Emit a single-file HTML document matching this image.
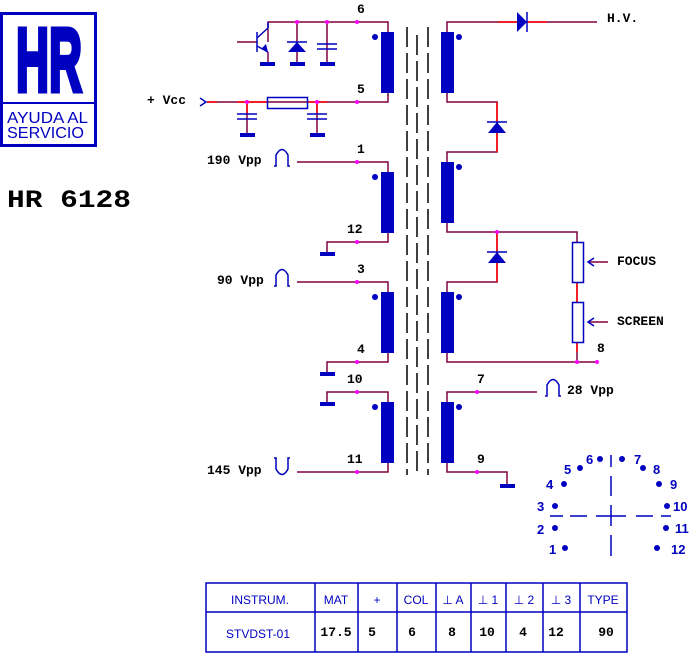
<!DOCTYPE html>
<html><head><meta charset="utf-8"><style>
html,body{margin:0;padding:0;background:#fff;width:694px;height:653px;overflow:hidden}
svg{display:block}
.t{font-family:"Liberation Mono",monospace;font-weight:bold;font-size:13px;fill:#000}
.b{font-family:"Liberation Sans",sans-serif;font-weight:bold;font-size:13px;fill:#0000c0}
.s{font-family:"Liberation Sans",sans-serif;font-size:12px;fill:#0000c0}
</style></head><body>
<svg width="694" height="653" viewBox="0 0 694 653" xmlns="http://www.w3.org/2000/svg">
<!-- logo -->
<rect x="1.5" y="13.5" width="94" height="132" fill="none" stroke="#0000c0" stroke-width="3"/>
<line x1="1" y1="103" x2="96" y2="103" stroke="#0000c0" stroke-width="2"/>
<text x="16" y="91" font-family="Liberation Sans,sans-serif" font-weight="bold" font-size="90" fill="#0000c0" stroke="#0000c0" stroke-width="5" textLength="66" lengthAdjust="spacingAndGlyphs">HR</text>
<text x="7" y="123" font-family="Liberation Sans,sans-serif" font-size="16" fill="#0000c0" textLength="81" lengthAdjust="spacingAndGlyphs">AYUDA AL</text>
<text x="7" y="138" font-family="Liberation Sans,sans-serif" font-size="16" fill="#0000c0" textLength="77" lengthAdjust="spacingAndGlyphs">SERVICIO</text>
<text x="7" y="207" font-family="Liberation Mono,monospace" font-weight="bold" font-size="25" fill="#000" textLength="124" lengthAdjust="spacingAndGlyphs">HR 6128</text>

<g stroke="#800040" stroke-width="1.5" fill="none">
<polyline points="268,42 268,22 388,22 388,32"/>
<polyline points="297,22 297,62"/>
<polyline points="327,22 327,62"/>
<polyline points="207,102 388,102 388,92"/>
<polyline points="247,102 247,134"/>
<polyline points="317,102 317,134"/>
<polyline points="297,162 388,162 388,172"/>
<polyline points="327,252 327,242 388,242 388,232"/>
<polyline points="297,282 388,282 388,292"/>
<polyline points="327,372 327,362 388,362 388,352"/>
<polyline points="327,403 327,392 388,392 388,402"/>
<polyline points="297,472 388,472 388,462"/>
<line x1="237" y1="42" x2="257" y2="42"/>
<polyline points="268,52 268,62"/>
<polyline points="447,32 447,22 597,22"/>
<polyline points="447,92 447,102 497,102 497,152 447,152 447,162"/>
<polyline points="447,222 447,232 577,232 577,242"/>
<polyline points="497,232 497,282 447,282 447,292"/>
<polyline points="447,352 447,362 597,362"/>
<line x1="577" y1="282" x2="577" y2="302"/>
<line x1="577" y1="342" x2="577" y2="362"/>
<polyline points="447,402 447,392 537,392"/>
<polyline points="447,462 447,472 507,472 507,484"/>
<line x1="588" y1="262" x2="608" y2="262"/>
<line x1="588" y1="322" x2="608" y2="322"/>
</g>
<g stroke="#ff0000" stroke-width="1.5">
<line x1="207" y1="102" x2="217" y2="102"/>
<line x1="247" y1="102" x2="247" y2="114"/><line x1="317" y1="102" x2="317" y2="114"/>
<line x1="237" y1="102" x2="267" y2="102"/><line x1="307" y1="102" x2="327" y2="102"/>
<line x1="497" y1="102" x2="497" y2="122"/><line x1="497" y1="133" x2="497" y2="152"/>
<line x1="497" y1="232" x2="497" y2="252"/><line x1="497" y1="263" x2="497" y2="282"/>
<line x1="498" y1="22" x2="517" y2="22"/><line x1="527" y1="22" x2="547" y2="22"/>
<line x1="577" y1="282" x2="577" y2="302"/><line x1="577" y1="342" x2="577" y2="352"/>
</g>
<g stroke="#000" stroke-width="1.5" stroke-dasharray="20,6">
<line x1="407" y1="27" x2="407" y2="475"/>
<line x1="417" y1="35" x2="417" y2="475"/>
<line x1="428" y1="27" x2="428" y2="475"/>
</g>
<g fill="#0000c0">
<rect x="381" y="32" width="13" height="61"/><rect x="381" y="172" width="13" height="61"/>
<rect x="381" y="292" width="13" height="61"/><rect x="381" y="402" width="13" height="61"/>
<rect x="441" y="32" width="13" height="61"/><rect x="441" y="162" width="13" height="61"/>
<rect x="441" y="292" width="13" height="61"/><rect x="441" y="402" width="13" height="61"/>
<circle cx="375" cy="37" r="3"/><circle cx="375" cy="177" r="3"/><circle cx="375" cy="297" r="3"/><circle cx="375" cy="407" r="3"/>
<circle cx="459" cy="37" r="3"/><circle cx="459" cy="167" r="3"/><circle cx="459" cy="297" r="3"/><circle cx="459" cy="407" r="3"/>
<rect x="260" y="62" width="15" height="4"/><rect x="290" y="62" width="15" height="4"/><rect x="320" y="62" width="15" height="4"/>
<rect x="240" y="133" width="15" height="4"/><rect x="310" y="133" width="15" height="4"/>
<rect x="320" y="252" width="15" height="4"/><rect x="320" y="372" width="15" height="4"/><rect x="320" y="402" width="15" height="4"/>
<rect x="500" y="484" width="15" height="4"/>
<polygon points="297,42 288,52 306,52"/>
<polygon points="497,122 488,133 506,133"/>
<polygon points="497,252 488,263 506,263"/>
<polygon points="517,12 517,32 527,22"/>
<polygon points="268,52 262,48 266,44"/>
</g>
<g stroke="#0000c0" stroke-width="1.5" fill="none">
<line x1="287" y1="42" x2="307" y2="42"/>
<line x1="487" y1="122" x2="507" y2="122"/>
<line x1="487" y1="252" x2="507" y2="252"/>
<line x1="527" y1="12" x2="527" y2="32"/>
<line x1="257" y1="32" x2="257" y2="52"/>
<line x1="257" y1="38" x2="268" y2="28"/><line x1="257" y1="46" x2="268" y2="52"/>
<line x1="268" y1="22" x2="268" y2="28"/>
<line x1="317" y1="44" x2="337" y2="44"/><line x1="317" y1="49" x2="337" y2="49"/>
<line x1="237" y1="114" x2="257" y2="114"/><line x1="237" y1="119" x2="257" y2="119"/>
<line x1="307" y1="114" x2="327" y2="114"/><line x1="307" y1="119" x2="327" y2="119"/>
<rect x="267.5" y="97.5" width="40" height="11"/>
<rect x="572.5" y="242.5" width="11" height="40"/>
<rect x="572.5" y="302.5" width="11" height="40"/>
<polyline points="200,98 206,102 200,106"/>
<polyline points="594,258 588,262 594,266"/><polyline points="594,318 588,322 594,326"/>
<path d="M274,166 L276,166 L276,155 Q282,144 288,155 L288,166 L290,166"/>
<path d="M274,286 L276,286 L276,275 Q282,264 288,275 L288,286 L290,286"/>
<path d="M274,458 L276,458 L276,469 Q282,480 288,469 L288,458 L290,458"/>
<path d="M545,396 L547,396 L547,385 Q553,374 559,385 L559,396 L561,396"/>
<line x1="611" y1="455" x2="611" y2="467"/><line x1="611" y1="476" x2="611" y2="496"/>
<line x1="611" y1="505" x2="611" y2="526"/><line x1="611" y1="535" x2="611" y2="556"/>
<line x1="550" y1="516" x2="563" y2="516"/><line x1="570" y1="516" x2="587" y2="516"/>
<line x1="596" y1="516" x2="626" y2="516"/><line x1="636" y1="516" x2="653" y2="516"/>
<line x1="661" y1="516" x2="671" y2="516"/>
</g>
<g fill="#ff00ff">
<circle cx="297" cy="22" r="2"/><circle cx="327" cy="22" r="2"/><circle cx="357" cy="22" r="2"/>
<circle cx="247" cy="102" r="2"/><circle cx="317" cy="102" r="2"/><circle cx="357" cy="102" r="2"/>
<circle cx="357" cy="162" r="2"/><circle cx="357" cy="242" r="2"/><circle cx="357" cy="282" r="2"/>
<circle cx="357" cy="362" r="2"/><circle cx="357" cy="392" r="2"/><circle cx="357" cy="472" r="2"/>
<circle cx="497" cy="232" r="2"/><circle cx="577" cy="362" r="2"/><circle cx="597" cy="362" r="2"/>
<circle cx="477" cy="392" r="2"/><circle cx="477" cy="472" r="2"/>
</g>
<text class="t" x="357" y="13">6</text><text class="t" x="357" y="93">5</text>
<text class="t" x="357" y="153">1</text><text class="t" x="347" y="233">12</text>
<text class="t" x="357" y="273">3</text><text class="t" x="357" y="353">4</text>
<text class="t" x="347" y="383">10</text><text class="t" x="347" y="463">11</text>
<text class="t" x="477" y="383">7</text><text class="t" x="477" y="463">9</text>
<text class="t" x="597" y="352">8</text>
<text class="t" x="607" y="22">H.V.</text>
<text class="t" x="617" y="265">FOCUS</text>
<text class="t" x="617" y="325">SCREEN</text>
<text class="t" x="147" y="104">+ Vcc</text>
<text class="t" x="207" y="164">190 Vpp</text>
<text class="t" x="217" y="284">90 Vpp</text>
<text class="t" x="207" y="474">145 Vpp</text>
<text class="t" x="567" y="394">28 Vpp</text>
<g fill="#0000c0">
<circle cx="565" cy="548" r="3"/><circle cx="555" cy="528" r="3"/><circle cx="555" cy="506" r="3"/>
<circle cx="564" cy="484" r="3"/><circle cx="580" cy="468" r="3"/><circle cx="600" cy="459" r="3"/>
<circle cx="622" cy="459" r="3"/><circle cx="643" cy="468" r="3"/><circle cx="659" cy="484" r="3"/>
<circle cx="667" cy="506" r="3"/><circle cx="666" cy="528" r="3"/><circle cx="657" cy="548" r="3"/>
</g>
<text class="b" x="549" y="554">1</text><text class="b" x="537" y="534">2</text><text class="b" x="537" y="511">3</text>
<text class="b" x="546" y="489">4</text><text class="b" x="564" y="474">5</text><text class="b" x="586" y="464">6</text>
<text class="b" x="634" y="464">7</text><text class="b" x="653" y="474">8</text><text class="b" x="670" y="489">9</text>
<text class="b" x="673" y="511">10</text><text class="b" x="675" y="533">11</text><text class="b" x="671" y="554">12</text>
<g stroke="#0000c0" stroke-width="1.5" fill="none">
<rect x="206" y="583" width="421" height="69"/>
<line x1="206" y1="612" x2="627" y2="612"/>
<line x1="315" y1="583" x2="315" y2="652"/><line x1="358" y1="583" x2="358" y2="652"/>
<line x1="397" y1="583" x2="397" y2="652"/><line x1="436" y1="583" x2="436" y2="652"/>
<line x1="471" y1="583" x2="471" y2="652"/><line x1="506" y1="583" x2="506" y2="652"/>
<line x1="543" y1="583" x2="543" y2="652"/><line x1="580" y1="583" x2="580" y2="652"/>
</g>
<g class="s" text-anchor="middle">
<text x="260" y="604">INSTRUM.</text><text x="336" y="604">MAT</text><text x="377" y="604">+</text>
<text x="416" y="604">COL</text><text x="453" y="604">⊥ A</text><text x="488" y="604">⊥ 1</text>
<text x="524" y="604">⊥ 2</text><text x="561" y="604">⊥ 3</text><text x="603" y="604">TYPE</text>
<text x="258" y="638">STVDST-01</text>
</g>
<g class="t" text-anchor="middle">
<text x="336" y="636">17.5</text><text x="372" y="636">5</text><text x="412" y="636">6</text>
<text x="452" y="636">8</text><text x="487" y="636">10</text><text x="523" y="636">4</text>
<text x="556" y="636">12</text><text x="606" y="636">90</text>
</g>
</svg>
</body></html>
